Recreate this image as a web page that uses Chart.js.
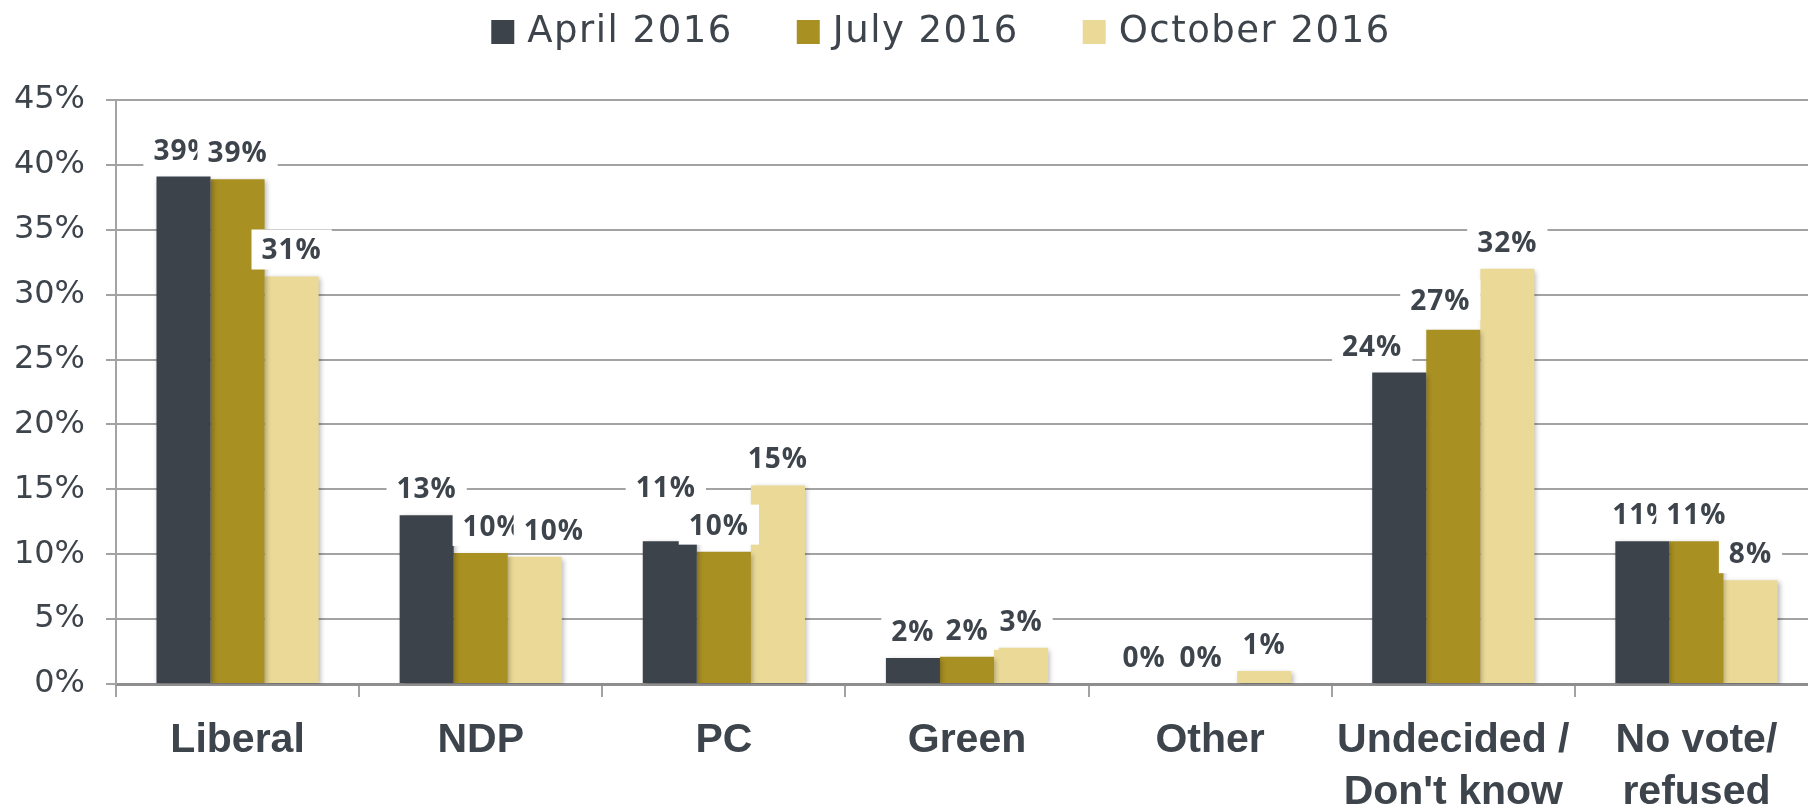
<!DOCTYPE html>
<html>
<head>
<meta charset="utf-8">
<script src="https://cdn.jsdelivr.net/npm/chart.js@4.4.1/dist/chart.umd.min.js"></script>
<style>
  html, body { margin: 0; padding: 0; background: #fff; overflow: hidden; }
  #wrap { width: 1818px; height: 807px; }
</style>
</head>
<body>
<div id="wrap"><canvas id="voteChart" width="1818" height="807"></canvas></div>
<script>
// party support by wave

const categories = [['Liberal'], ['NDP'], ['PC'], ['Green'], ['Other'], ['Undecided /', "Don't know"], ['No vote/', 'refused']]
const seriesNames = ['April 2016', 'July 2016', 'October 2016']
const april2016 = [39.1, 13.0, 11.0, 2.0, 0, 24.0, 11.0]
const july2016 = [38.9, 10.1, 10.2, 2.1, 0, 27.3, 11.0]
const october2016 = [31.4, 9.8, 15.3, 2.8, 1.0, 32.0, 8.0]
const yTicks = [0, 5, 10, 15, 20, 25, 30, 35, 40, 45]

const colors = ['#3c434a', '#a99023', '#ebda97']
const textColor = '#3d444b'
const gridColor = '#a3a3a3'

// hand placed labels in the original (dataset index, category index -> shift in px)
const labelNudge = {
    '1,1': [12, 0], '2,1': [19, 0],
    '0,2': [-4, -27], '1,2': [-5, 0],
    '0,4': [-12, 0], '1,4': [-9, 0],
    '0,5': [-27, 0], '1,5': [-13, -3]
}

const shadowPlugin = {
    id: 'barShadow',
    beforeDatasetsDraw(chart) {
        const ctx = chart.ctx
        ctx.save()
        ctx.shadowColor = 'rgba(0, 0, 0, 0.28)'
        ctx.shadowBlur = 5
        ctx.shadowOffsetX = 2
        ctx.shadowOffsetY = 2
    },
    afterDatasetsDraw(chart) {
        chart.ctx.restore()
    }
}

const valueLabels = {
    id: 'valueLabels',
    afterDatasetsDraw(chart) {
        const ctx = chart.ctx
        ctx.save()
        ctx.font = 'bold 28px "Open Sans"'
        ctx.letterSpacing = '1px'
        ctx.textAlign = 'center'
        ctx.textBaseline = 'alphabetic'
        chart.data.datasets.forEach((ds, i) => {
            const meta = chart.getDatasetMeta(i)
            meta.data.forEach((bar, j) => {
                const text = Math.round(ds.data[j]) + '%'
                const nudge = labelNudge[i + ',' + j] || [0, 0]
                const cx = bar.x + nudge[0]
                const cy = bar.y - 27 + nudge[1]
                const w = ctx.measureText(text).width
                ctx.fillStyle = '#ffffff'
                ctx.fillRect(cx - w / 2 - 10, cy - 20, w + 20, 40)
                ctx.fillStyle = textColor
                ctx.fillText(text, cx, cy + 10)
            })
        })
        ctx.restore()
    }
}

const topLegend = {
    id: 'topLegend',
    afterDraw(chart) {
        const ctx = chart.ctx
        ctx.save()
        ctx.font = '37px "DejaVu Sans"'
        ctx.letterSpacing = '1.5px'
        ctx.textBaseline = 'alphabetic'
        ctx.textAlign = 'left'
        const box = 23, gap = 13, itemGap = 64
        const widths = chart.data.datasets.map(ds => ctx.measureText(ds.label).width)
        let total = 0
        widths.forEach(w => { total += box + gap + w })
        total += itemGap * (widths.length - 1)
        let x = 941 - total / 2
        chart.data.datasets.forEach((ds, i) => {
            ctx.fillStyle = ds.backgroundColor
            ctx.fillRect(x, 20, box, 24)
            ctx.fillStyle = textColor
            ctx.fillText(ds.label, x + box + gap, 42)
            x += box + gap + widths[i] + itemGap
        })
        ctx.restore()
    }
}

const ctx = document.getElementById('voteChart')
new Chart(ctx, {
    type: 'bar',
    data: {
        labels: categories,
        datasets: [april2016, july2016, october2016].map((values, i) => ({
            label: seriesNames[i],
            data: values,
            backgroundColor: colors[i],
            borderWidth: 0,
            categoryPercentage: 0.667,
            barPercentage: 1.0
        }))
    },
    options: {
        responsive: false,
        animation: false,
        devicePixelRatio: 1,
        layout: {
            padding: { top: 100, left: 0, right: 0, bottom: 0 }
        },
        plugins: {
            legend: { display: false },
            tooltip: { enabled: false }
        },
        scales: {
            x: {
                grid: {
                    display: true,
                    drawOnChartArea: false,
                    drawTicks: true,
                    tickLength: 13,
                    color: gridColor,
                    lineWidth: 2,
                    offset: true
                },
                border: { display: true, color: '#8e8e8e', width: 3 },
                ticks: {
                    color: textColor,
                    font: { family: '"Liberation Sans", Arial', size: 41, weight: 'bold', lineHeight: 1.26 },
                    padding: 18,
                    maxRotation: 0,
                    autoSkip: false
                },
                afterFit(scale) {
                    scale.height = 123
                }
            },
            y: {
                min: 0,
                max: 45,
                afterBuildTicks(scale) {
                    scale.ticks = yTicks.map(v => ({ value: v }))
                },
                grid: {
                    color: gridColor,
                    lineWidth: 2,
                    tickLength: 10
                },
                border: { display: true, color: gridColor, width: 2 },
                ticks: {
                    color: textColor,
                    font: { family: '"DejaVu Sans"', size: 32 },
                    padding: 21,
                    callback: v => v + '%'
                },
                afterFit(scale) {
                    scale.width = 116
                }
            }
        }
    },
    plugins: [shadowPlugin, valueLabels, topLegend]
})
</script>
</body>
</html>
